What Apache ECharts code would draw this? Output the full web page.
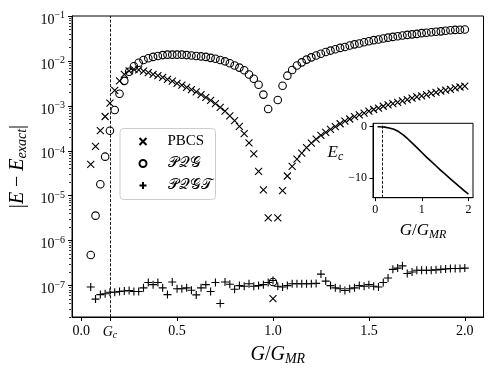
<!DOCTYPE html>
<html>
<head>
<meta charset="utf-8">
<script src="https://cdn.jsdelivr.net/npm/echarts@6/dist/echarts.min.js"></script>
<style>
html, body { margin: 0; padding: 0; background: #fff; }
#chart { width: 498px; height: 374px; }
</style>
</head>
<body>
<div id="chart"></div>
<script>
// G / G_MR sample points
var g = [0.05, 0.075, 0.1, 0.125, 0.15, 0.175, 0.2, 0.225, 0.25, 0.275,
    0.3, 0.325, 0.35, 0.375, 0.4, 0.425, 0.45, 0.475, 0.5, 0.525,
    0.55, 0.575, 0.6, 0.625, 0.65, 0.675, 0.7, 0.725, 0.75, 0.775,
    0.8, 0.825, 0.85, 0.875, 0.9, 0.925, 0.95, 0.975, 1.0, 1.025,
    1.05, 1.075, 1.1, 1.125, 1.15, 1.175, 1.2, 1.225, 1.25, 1.275,
    1.3, 1.325, 1.35, 1.375, 1.4, 1.425, 1.45, 1.475, 1.5, 1.525,
    1.55, 1.575, 1.6, 1.625, 1.65, 1.675, 1.7, 1.725, 1.75, 1.775,
    1.8, 1.825, 1.85, 1.875, 1.9, 1.925, 1.95, 1.975, 2.0];

// |E - E_exact|
var pbcs = [5.0e-5, 1.26e-4, 2.8e-4, 5.8e-4, 1.15e-3, 2.2e-3, 3.6e-3, 5.0e-3, 6.0e-3, 6.5e-3,
    6.3e-3, 5.9e-3, 5.5e-3, 5.0e-3, 4.7e-3, 4.3e-3, 3.9e-3, 3.55e-3, 3.16e-3, 2.9e-3,
    2.57e-3, 2.3e-3, 2.04e-3, 1.78e-3, 1.55e-3, 1.32e-3, 1.12e-3, 9.3e-4, 7.6e-4, 6.0e-4,
    4.7e-4, 3.5e-4, 2.4e-4, 1.5e-4, 8.5e-5, 3.5e-5, 1.35e-5, 3.2e-6, 5.1e-8, 3.2e-6,
    1.3e-5, 2.75e-5, 4.5e-5, 6.5e-5, 8.9e-5, 1.17e-4, 1.48e-4, 1.82e-4, 2.2e-4, 2.57e-4,
    3.0e-4, 3.47e-4, 4.0e-4, 4.6e-4, 5.1e-4, 5.75e-4, 6.3e-4, 6.9e-4, 7.6e-4, 8.3e-4,
    8.9e-4, 9.8e-4, 1.05e-3, 1.12e-3, 1.2e-3, 1.29e-3, 1.38e-3, 1.48e-3, 1.58e-3, 1.66e-3,
    1.78e-3, 1.9e-3, 2.0e-3, 2.14e-3, 2.24e-3, 2.34e-3, 2.5e-3, 2.63e-3, 2.75e-3];

var pqg = [4.8e-7, 3.6e-6, 1.8e-5, 7.4e-5, 2.8e-4, 8.1e-4, 1.86e-3, 3.6e-3, 5.75e-3, 7.6e-3,
    9.1e-3, 1.05e-2, 1.15e-2, 1.23e-2, 1.29e-2, 1.35e-2, 1.38e-2, 1.38e-2, 1.38e-2, 1.38e-2,
    1.35e-2, 1.32e-2, 1.29e-2, 1.26e-2, 1.23e-2, 1.17e-2, 1.12e-2, 1.05e-2, 9.8e-3, 8.9e-3,
    7.9e-3, 7.1e-3, 6.2e-3, 5.0e-3, 4.0e-3, 2.95e-3, 1.78e-3, 8.5e-4, 1.2e-7, 1.35e-3,
    2.8e-3, 4.7e-3, 6.3e-3, 7.9e-3, 9.3e-3, 1.07e-2, 1.2e-2, 1.32e-2, 1.45e-2, 1.58e-2,
    1.7e-2, 1.82e-2, 1.95e-2, 2.04e-2, 2.2e-2, 2.34e-2, 2.45e-2, 2.6e-2, 2.75e-2, 2.9e-2,
    3.0e-2, 3.16e-2, 3.3e-2, 3.43e-2, 3.55e-2, 3.67e-2, 3.8e-2, 3.9e-2, 4.0e-2, 4.15e-2,
    4.25e-2, 4.35e-2, 4.45e-2, 4.55e-2, 4.7e-2, 4.8e-2, 4.9e-2, 4.95e-2, 5.0e-2];

var pqgt = [9.3e-8, 5.0e-8, 6.3e-8, 6.6e-8, 7.1e-8, 7.1e-8, 7.4e-8, 7.6e-8, 7.8e-8, 7.4e-8,
    7.4e-8, 8.9e-8, 1.17e-7, 1.05e-7, 1.17e-7, 8.9e-8, 6.3e-8, 1.2e-7, 8.5e-8, 8.5e-8,
    8.9e-8, 7.9e-8, 6.2e-8, 8.9e-8, 1.05e-7, 7.4e-8, 1.17e-7, 4.0e-8, 1.2e-7, 1.07e-7,
    8.3e-8, 1.0e-7, 9.7e-8, 1.1e-7, 9.7e-8, 1.0e-7, 1.05e-7, 1.17e-7, 1.3e-7, 9.7e-8,
    9.3e-8, 1.0e-7, 1.1e-7, 1.1e-7, 1.1e-7, 1.1e-7, 1.1e-7, 1.12e-7, 1.8e-7, 1.26e-7,
    1.0e-7, 8.9e-8, 8.5e-8, 7.8e-8, 8.5e-8, 8.9e-8, 1.0e-7, 9.7e-8, 1.05e-7, 9.7e-8,
    9.3e-8, 1.17e-7, 1.48e-7, 2.3e-7, 2.45e-7, 2.75e-7, 1.86e-7, 2.0e-7, 2.2e-7, 2.2e-7,
    2.2e-7, 2.2e-7, 2.24e-7, 2.3e-7, 2.34e-7, 2.4e-7, 2.4e-7, 2.4e-7, 2.45e-7];

// inset: correlation energy
var gInset = [0.05, 0.1, 0.15, 0.2, 0.3, 0.4, 0.5, 0.6, 0.7, 0.8, 0.9, 1.0,
    1.1, 1.2, 1.3, 1.4, 1.5, 1.6, 1.7, 1.8, 1.9, 2.0];
var ec = [-0.01, -0.02, -0.04, -0.08, -0.25, -0.5, -0.95, -1.6, -2.4, -3.25, -4.15, -5.05,
    -5.95, -6.8, -7.65, -8.5, -9.3, -10.1, -10.9, -11.7, -12.45, -13.2];

var gc = 0.15;
var xTicks = [0, gc, 0.5, 1, 1.5, 2];
var yTicks = [1e-7, 1e-6, 1e-5, 1e-4, 1e-3, 1e-2, 1e-1];
var insetXTicks = [0, 1, 2];
var insetYTicks = [-10, 0];
var seriesNames = ['PBCS', '\uD835\uDCAB\uD835\uDCAC\uD835\uDCA2', '\uD835\uDCAB\uD835\uDCAC\uD835\uDCA2\uD835\uDCAF'];

var SERIF = 'Liberation Serif';

// minor log ticks
var minorTicks = [];
for (var n = -8; n <= -2; n++) {
    for (var m = 2; m <= 9; m++) {
        var v = m * Math.pow(10, n);
        if (v >= 2e-8 && v <= 0.1) minorTicks.push(v);
    }
}

function pairs(xs, ys) {
    return xs.map(function (x, i) { return [x, ys[i]]; });
}

var black = '#000';
var dashLine = {
    silent: true,
    symbol: 'none',
    label: { show: false },
    lineStyle: { color: black, type: [3, 1.6], width: 0.9 },
    emphasis: { disabled: true },
    data: [{ xAxis: gc }]
};
var markerStyle = { color: 'transparent', borderColor: black, borderWidth: 1.1, opacity: 1 };

var myChart = echarts.init(document.getElementById('chart'));
var option = {
    animation: false,
    textStyle: { fontFamily: SERIF },
    legend: {
        orient: 'vertical',
        left: 120,
        top: 128.5,
        padding: [5.5, 4, 6.5, 18.5],
        itemWidth: 7,
        itemHeight: 7,
        itemGap: 7,
        selectedMode: false,
        backgroundColor: 'rgba(255,255,255,0.8)',
        borderColor: '#cccccc',
        borderWidth: 1,
        borderRadius: 4,
        textStyle: { fontFamily: SERIF, fontSize: 15, color: black, lineHeight: 14, padding: [0, 0, 0, 16] },
        data: seriesNames
    },
    grid: [
        { left: 71, top: 16, width: 412.5, height: 301, show: true, borderColor: black, borderWidth: 1, backgroundColor: 'transparent' },
        { left: 71, top: 16, width: 412.5, height: 301 },
        { left: 373, top: 123.3, width: 100, height: 74.4, show: true, borderColor: black, borderWidth: 1, backgroundColor: '#fff' }
    ],
    xAxis: [{
        gridIndex: 0,
        type: 'value',
        min: -0.0475,
        max: 2.0975,
        splitLine: { show: false },
        axisLine: { onZero: false, lineStyle: { color: black, width: 1 } },
        axisTick: { customValues: xTicks, length: 4, lineStyle: { color: black } },
        axisLabel: {
            customValues: xTicks,
            margin: 7,
            color: black,
            fontFamily: SERIF,
            fontSize: 14,
            formatter: function (v) {
                if (Math.abs(v - gc) < 1e-6) return '{gi|G}{gs|c}';
                return v.toFixed(1);
            },
            rich: {
                gi: { fontFamily: SERIF, fontSize: 14, fontStyle: 'italic', color: black },
                gs: { fontFamily: SERIF, fontSize: 10, fontStyle: 'italic', color: black, padding: [6, 0, 0, 0] }
            }
        },
        name: '{i|G}/{i|G}{sub|MR}',
        nameLocation: 'middle',
        nameGap: 21,
        nameTextStyle: {
            fontFamily: SERIF, fontSize: 20, color: black,
            rich: {
                i: { fontFamily: SERIF, fontSize: 20, fontStyle: 'italic', color: black },
                sub: { fontFamily: SERIF, fontSize: 14, fontStyle: 'italic', color: black, padding: [9, 0, 0, 0] }
            }
        }
    }, {
        gridIndex: 1,
        type: 'value',
        min: -0.0475,
        max: 2.0975,
        show: false
    }, {
        gridIndex: 2,
        type: 'value',
        min: -0.0475,
        max: 2.0975,
        splitLine: { show: false },
        axisLine: { onZero: false, lineStyle: { color: black, width: 1 } },
        axisTick: { customValues: insetXTicks, length: 3.5, lineStyle: { color: black } },
        axisLabel: { customValues: insetXTicks, margin: 6, color: black, fontFamily: SERIF, fontSize: 12 },
        name: '{i|G}/{i|G}{sub|MR}',
        nameLocation: 'middle',
        nameGap: 23,
        nameTextStyle: {
            fontFamily: SERIF, fontSize: 17, color: black,
            rich: {
                i: { fontFamily: SERIF, fontSize: 17, fontStyle: 'italic', color: black },
                sub: { fontFamily: SERIF, fontSize: 12, fontStyle: 'italic', color: black, padding: [8, 0, 0, 0] }
            }
        }
    }],
    yAxis: [{
        gridIndex: 0,
        type: 'log',
        logBase: 10,
        min: 2e-8,
        max: 0.1,
        splitLine: { show: false },
        axisLine: { onZero: false, lineStyle: { color: black, width: 1 } },
        axisTick: { customValues: yTicks, length: 4, lineStyle: { color: black } },
        axisLabel: {
            customValues: yTicks,
            margin: 7,
            color: black,
            padding: [8, 0, 0, 0],
            formatter: function (v) {
                var e = Math.round(Math.log(v) / Math.LN10);
                return '{n|10}{s|\u2212' + (-e) + '}';
            },
            rich: {
                n: { fontFamily: SERIF, fontSize: 14, color: black },
                s: { fontFamily: SERIF, fontSize: 10, color: black, padding: [0, 0, 9, 0] }
            }
        },
        name: '|{i|E} \u2212 {i|E}{sub|exact}|',
        nameLocation: 'middle',
        nameRotate: 90,
        nameGap: 33,
        nameTextStyle: {
            fontFamily: SERIF, fontSize: 20, color: black,
            rich: {
                i: { fontFamily: SERIF, fontSize: 20, fontStyle: 'italic', color: black },
                sub: { fontFamily: SERIF, fontSize: 14, fontStyle: 'italic', color: black, padding: [9, 0, 0, 0] }
            }
        }
    }, {
        gridIndex: 1,
        type: 'log',
        logBase: 10,
        min: 2e-8,
        max: 0.1,
        splitLine: { show: false },
        axisLine: { show: false, onZero: false },
        axisLabel: { show: false },
        axisTick: { customValues: minorTicks, length: 2, lineStyle: { color: black, width: 0.8 } }
    }, {
        gridIndex: 2,
        type: 'value',
        min: -13.9,
        max: 0.67,
        splitLine: { show: false },
        axisLine: { onZero: false, lineStyle: { color: black, width: 1 } },
        axisTick: { customValues: insetYTicks, length: 3.5, lineStyle: { color: black } },
        axisLabel: {
            customValues: insetYTicks, margin: 6, color: black, fontFamily: SERIF, fontSize: 12,
            formatter: function (v) { return v < 0 ? '\u2212' + (-v) : String(v); }
        },
        name: '{i|E}{sub|c}',
        nameLocation: 'middle',
        nameRotate: 0,
        nameGap: 28,
        nameTextStyle: {
            fontFamily: SERIF, fontSize: 17, color: black,
            padding: [0, 0, 16, 0],
            rich: {
                i: { fontFamily: SERIF, fontSize: 17, fontStyle: 'italic', color: black },
                sub: { fontFamily: SERIF, fontSize: 12, fontStyle: 'italic', color: black, padding: [8, 0, 0, 0] }
            }
        }
    }],
    series: [{
        name: seriesNames[0],
        type: 'scatter',
        xAxisIndex: 0,
        yAxisIndex: 0,
        symbol: 'path://M0,0L10,10M10,0L0,10',
        symbolSize: 7,
        itemStyle: markerStyle,
        data: pairs(g, pbcs),
        markLine: dashLine
    }, {
        name: seriesNames[1],
        type: 'scatter',
        xAxisIndex: 0,
        yAxisIndex: 0,
        symbol: 'circle',
        symbolSize: 7.5,
        itemStyle: markerStyle,
        data: pairs(g, pqg)
    }, {
        name: seriesNames[2],
        type: 'scatter',
        xAxisIndex: 0,
        yAxisIndex: 0,
        symbol: 'path://M5,0L5,10M0,5L10,5',
        symbolSize: 8,
        itemStyle: markerStyle,
        data: pairs(g, pqgt)
    }, {
        type: 'line',
        xAxisIndex: 2,
        yAxisIndex: 2,
        showSymbol: false,
        silent: true,
        lineStyle: { color: black, width: 1.6 },
        data: pairs(gInset, ec),
        markLine: dashLine
    }]
};
myChart.setOption(option);
</script>
</body>
</html>
